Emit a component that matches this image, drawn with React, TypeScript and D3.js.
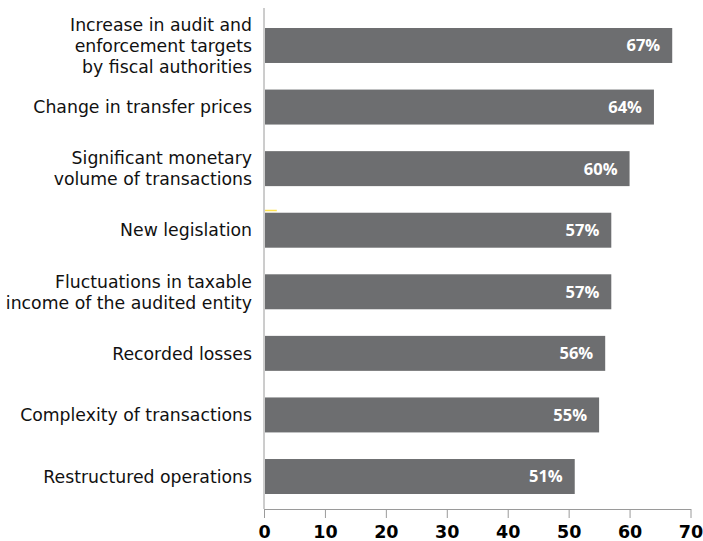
import React, { useEffect, useRef } from "react";
import * as d3 from "d3";

// survey categories, top to bottom
const categories: string[][] = [
  ["Increase in audit and", "enforcement targets", "by fiscal authorities"],
  ["Change in transfer prices"],
  ["Significant monetary", "volume of transactions"],
  ["New legislation"],
  ["Fluctuations in taxable", "income of the audited entity"],
  ["Recorded losses"],
  ["Complexity of transactions"],
  ["Restructured operations"],
];
const values = [67, 64, 60, 57, 57, 56, 55, 51];
const ticks = [0, 10, 20, 30, 40, 50, 60, 70];

const W = 703;
const H = 541;
const FONT = "'DejaVu Sans', sans-serif";
const NUMFONT = "'Open Sans', 'DejaVu Sans', sans-serif";

export default function App() {
  const ref = useRef<SVGSVGElement>(null);

  useEffect(() => {
    const svg = d3.select(ref.current);
    svg.selectAll("*").remove();

    const x = d3.scaleLinear().domain([0, 70]).range([264, 690.5]);
    const y = d3
      .scaleBand<number>()
      .domain(d3.range(values.length))
      .range([28, 494])
      .paddingInner(0.432)
      .paddingOuter(0);

    // left axis line
    svg
      .append("line")
      .attr("x1", x(0))
      .attr("x2", x(0))
      .attr("y1", 8)
      .attr("y2", 509)
      .attr("stroke", "#9a9a9a")
      .attr("stroke-width", 1);

    // bars
    svg
      .selectAll("rect.bar")
      .data(values)
      .enter()
      .append("rect")
      .attr("class", "bar")
      .attr("x", x(0) + 1)
      .attr("y", (d, i) => y(i)!)
      .attr("width", (d) => x(d) - x(0) - 1)
      .attr("height", y.bandwidth())
      .attr("fill", "#6d6e70");

    // value labels
    svg
      .selectAll("text.val")
      .data(values)
      .enter()
      .append("text")
      .attr("class", "val")
      .attr("x", (d) => x(d) - 12)
      .attr("y", (d, i) => y(i)! + y.bandwidth() / 2)
      .attr("dy", "0.36em")
      .attr("text-anchor", "end")
      .attr("fill", "#fff")
      .attr("font-family", NUMFONT)
      .attr("font-weight", "bold")
      .attr("font-size", 16.5)
      .text((d) => d + "%");

    // category labels
    const lh = 21;
    categories.forEach((lines, i) => {
      const cy = y(i)! + y.bandwidth() / 2;
      const t = svg
        .append("text")
        .attr("text-anchor", "end")
        .attr("font-family", FONT)
        .attr("font-size", 17.3)
        .attr("fill", "#111");
      lines.forEach((ln, j) => {
        t.append("tspan")
          .attr("x", 252)
          .attr("y", cy + (j - (lines.length - 1) / 2) * lh)
          .attr("dy", "0.36em")
          .text(ln);
      });
    });

    // small yellow mark
    svg
      .append("line")
      .attr("x1", x(0) + 1)
      .attr("x2", x(2.1))
      .attr("y1", 210.5)
      .attr("y2", 210.5)
      .attr("stroke", "#ffe24d")
      .attr("stroke-width", 1.5);

    // bottom axis
    const axis = svg
      .append("g")
      .attr("transform", "translate(0,509)")
      .call(d3.axisBottom(x).tickValues(ticks).tickSize(9).tickSizeOuter(0).tickPadding(8));
    axis.select(".domain").attr("stroke", "#9a9a9a");
    axis.selectAll(".tick line").attr("stroke", "#9a9a9a");
    axis
      .selectAll(".tick text")
      .attr("font-family", FONT)
      .attr("font-weight", "bold")
      .attr("font-size", 17.5)
      .attr("fill", "#000");
  }, []);

  return (
    <svg
      ref={ref}
      width={W}
      height={H}
      style={{ position: "absolute", left: 0, top: 0, background: "#fff" }}
    />
  );
}
